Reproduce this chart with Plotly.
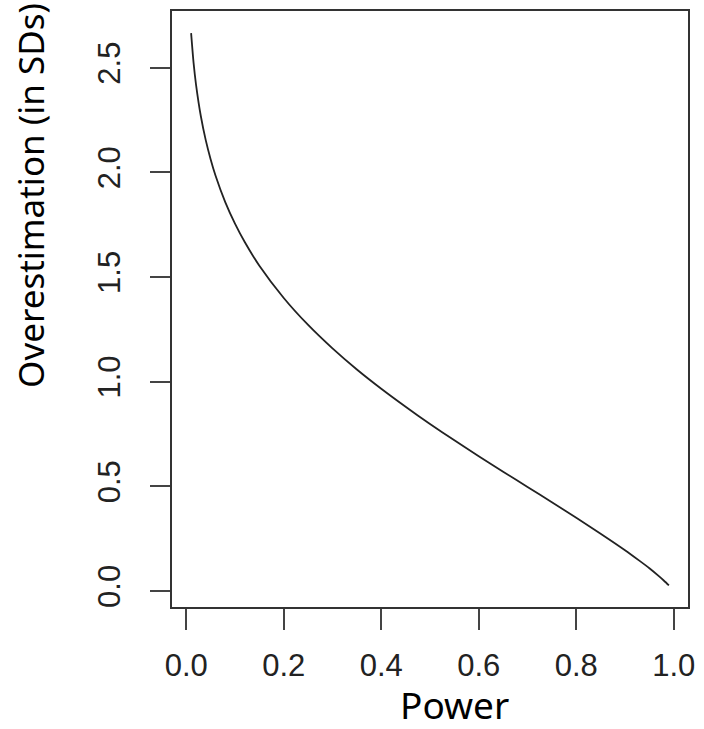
import plotly.graph_objects as go

power = [0.01, 0.015, 0.02, 0.03, 0.04, 0.05, 0.06, 0.08, 0.10, 0.12, 0.15,
         0.20, 0.25, 0.30, 0.35, 0.40, 0.45, 0.50, 0.55, 0.60, 0.65, 0.70,
         0.75, 0.80, 0.85, 0.90, 0.93, 0.95, 0.97, 0.98, 0.99]
overestimation = [2.665, 2.524, 2.421, 2.268, 2.154, 2.063, 1.985, 1.858, 1.755,
                  1.667, 1.554, 1.400, 1.271, 1.159, 1.058, 0.966, 0.880, 0.798,
                  0.720, 0.644, 0.570, 0.497, 0.424, 0.350, 0.274, 0.195, 0.144,
                  0.109, 0.070, 0.049, 0.027]
x_ticks = [0.0, 0.2, 0.4, 0.6, 0.8, 1.0]
y_ticks = [0.0, 0.5, 1.0, 1.5, 2.0, 2.5]
x_title = "Power"
y_title = "Overestimation (in SDs)"

W, H = 704, 729
L, T = 172, 11
PW, PH = 523, 596
R, B = W - L - PW, H - T - PH

fig = go.Figure()
fig.add_trace(go.Scatter(x=power, y=overestimation, mode="lines",
                         line=dict(color="#222222", width=1.8, shape="spline", smoothing=0.6),
                         hoverinfo="skip", showlegend=False))

tick_font = dict(family="Liberation Sans, Arial, sans-serif", size=31, color="#222222")
fig.update_layout(
    width=W, height=H,
    margin=dict(l=L, r=R, t=T, b=B),
    paper_bgcolor="white", plot_bgcolor="white",
    xaxis=dict(range=[-0.0292, 1.0292], tickvals=x_ticks,
               ticktext=[f"{v:.1f}" for v in x_ticks],
               showgrid=False, zeroline=False, showline=True, mirror=True,
               linecolor="#333333", linewidth=1.5,
               ticks="outside", ticklen=21, tickwidth=1.5, tickcolor="#444444",
               tickfont=tick_font, ticklabelstandoff=9),
    yaxis=dict(range=[-0.0765, 2.771], tickvals=y_ticks,
               ticktext=[f"{v:.1f}" for v in y_ticks],
               showgrid=False, zeroline=False, showline=True, mirror=True,
               linecolor="#333333", linewidth=1.5,
               ticks="outside", ticklen=20, tickwidth=1.5, tickcolor="#444444",
               tickfont=tick_font, tickangle=-90, ticklabelstandoff=18),
    annotations=[
        dict(text=x_title, xref="paper", yref="paper", x=(458 - 172) / PW,
             y=-(704 - 607) / PH, xanchor="center", yanchor="middle",
             showarrow=False, font=dict(family="Noto Sans", size=37, color="black")),
        dict(text=y_title, xref="paper", yref="paper", x=-(172 - 28) / PW,
             y=(607 - 195) / PH, xanchor="center", yanchor="middle", textangle=-90,
             showarrow=False, font=dict(family="Noto Sans", size=35, color="black")),
    ],
)
# Remove the browser's default 8px page margin so the figure sits at the page origin.
fig.write_html("out.html", config={"displayModeBar": False},
               post_script="document.body.style.margin='0px';document.body.style.overflow='hidden';")
